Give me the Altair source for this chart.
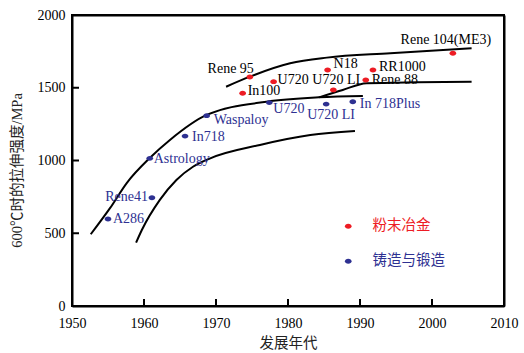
import altair as alt
import pandas as pd

# ---- data ----
# powder metallurgy alloys (粉末冶金)
pm_names = ["Rene 95", "U720", "In100", "N18", "U720 LI", "RR1000", "Rene 88", "Rene 104(ME3)"]
pm_year = [1974.7, 1978.0, 1973.7, 1985.5, 1986.3, 1991.8, 1990.8, 2002.9]
pm_strength = [1574, 1542, 1462, 1622, 1485, 1622, 1553, 1737]

# cast & wrought alloys (铸造与锻造)
cw_names = ["A286", "Rene41", "Astrology", "In718", "Waspaloy", "U720", "U720 LI", "In 718Plus"]
cw_year = [1955.0, 1961.1, 1960.8, 1965.7, 1968.7, 1977.4, 1985.3, 1989.0]
cw_strength = [598, 744, 1015, 1168, 1308, 1398, 1388, 1404]

group_names = ["粉末冶金", "铸造与锻造"]

# trend curves
curve_a_year = [1952.6, 1955.3, 1957.6, 1960.8, 1963.6, 1968.7, 1977.0, 1984.3, 1990.4]
curve_a_strength = [493, 674, 845, 1017, 1141, 1313, 1404, 1434, 1443]
curve_b_year = [1984.3, 1987.6, 1990.9, 1998.0, 2005.5]
curve_b_strength = [1434, 1485, 1531, 1538, 1542]
curve_c_year = [1971.4, 1974.7, 1980.3, 1985.4, 1994.2, 2005.5]
curve_c_strength = [1507, 1576, 1668, 1707, 1737, 1771]
curve_d_year = [1958.9, 1959.7, 1962.2, 1964.5, 1966.8, 1969.2, 1976.1, 1983.1, 1989.3]
curve_d_strength = [435, 522, 729, 866, 957, 1015, 1107, 1175, 1203]

x_ticks = [1950, 1960, 1970, 1980, 1990, 2000, 2010]
y_ticks = [0, 500, 1000, 1500, 2000]

# ---- styles ----
RED = "#ED1C24"
BLUE = "#2E3192"
SERIF = "Times New Roman, Liberation Serif, serif"
MIXED = "Times New Roman, Liberation Serif, Noto Sans CJK SC, serif"
ELLIPSE = "M -1 0 A 1 0.72 0 1 0 1 0 A 1 0.72 0 1 0 -1 0 Z"
X_MIN, X_MAX = x_ticks[0], x_ticks[-1]
Y_MIN, Y_MAX = y_ticks[0], y_ticks[-1]
TICK_MID_Y = 24.0    # centre of inward x-axis ticks (strength units, ~3.5px)
TICK_MID_X = 0.49    # centre of inward y-axis ticks (years, ~3.5px)

# label placement (dx, dy, align) per label
pm_label_style = {
    "Rene 95": (4, -8, "right"),
    "U720": (4, -2, "left"),
    "In100": (5, -2, "left"),
    "N18": (6, -6, "left"),
    "U720 LI": (-21, -10, "left"),
    "RR1000": (6, -3, "left"),
    "Rene 88": (6, 0, "left"),
    "Rene 104(ME3)": (-7, -13, "center"),
}
cw_label_style = {
    "A286": (5, 0, "left"),
    "Rene41": (-4, -1, "right"),
    "Astrology": (4, 1, "left"),
    "In718": (7, 1, "left"),
    "Waspaloy": (7, 4, "left"),
    "U720": (4, 6, "left"),
    "U720 LI": (-19, 11, "left"),
    "In 718Plus": (7, 2, "left"),
}

pts = pd.DataFrame({
    "name": pm_names + cw_names,
    "year": pm_year + cw_year,
    "strength": pm_strength + cw_strength,
    "group": [group_names[0]] * len(pm_names) + [group_names[1]] * len(cw_names),
})

curves = pd.concat([
    pd.DataFrame({"year": curve_a_year, "strength": curve_a_strength, "curve": "a"}),
    pd.DataFrame({"year": curve_b_year, "strength": curve_b_strength, "curve": "b"}),
    pd.DataFrame({"year": curve_c_year, "strength": curve_c_strength, "curve": "c"}),
    pd.DataFrame({"year": curve_d_year, "strength": curve_d_strength, "curve": "d"}),
], ignore_index=True)
curves["order"] = range(len(curves))

x_scale = alt.Scale(domain=[X_MIN, X_MAX], nice=False, zero=False)
y_scale = alt.Scale(domain=[Y_MIN, Y_MAX], nice=False)

x_enc = alt.X("year:Q", scale=x_scale, axis=alt.Axis(
    title="发展年代", values=x_ticks, format="d", ticks=False, grid=False,
    labelFont=SERIF, labelFontSize=14, labelColor="black", labelPadding=10,
    labelFlush=False,
    titleFont=MIXED, titleFontSize=14.5, titleFontWeight="normal", titleColor="#222",
    titlePadding=6, domainColor="black", domainWidth=2))
y_enc = alt.Y("strength:Q", scale=y_scale, axis=alt.Axis(
    title="600℃时的拉伸强度/MPa", values=y_ticks, format="d", ticks=False, grid=False,
    labelFont=SERIF, labelFontSize=14, labelColor="black", labelPadding=7,
    labelFlush=False,
    titleFont=MIXED, titleFontSize=14.5, titleFontWeight="normal", titleColor="#222",
    titleX=-55, titleY=155, titleAngle=-90, titleAlign="center", titleBaseline="middle",
    domainColor="black", domainWidth=2))

lines = alt.Chart(curves).mark_line(
    color="black", strokeWidth=2, interpolate="monotone"
).encode(x=x_enc, y=y_enc, detail="curve:N", order="order:Q")

# inward ticks as tick marks
xt = pd.DataFrame({"year": [float(v) for v in x_ticks[1:-1]],
                   "strength": [TICK_MID_Y] * (len(x_ticks) - 2)})
yt = pd.DataFrame({"year": [X_MIN + TICK_MID_X] * (len(y_ticks) - 2),
                   "strength": [float(v) for v in y_ticks[1:-1]]})
x_tick_marks = alt.Chart(xt).mark_tick(
    orient="vertical", size=7, thickness=2, color="black", opacity=1
).encode(x=x_enc, y=y_enc)
y_tick_marks = alt.Chart(yt).mark_tick(
    orient="horizontal", size=7, thickness=2, color="black", opacity=1
).encode(x=x_enc, y=y_enc)

points = alt.Chart(pts).mark_point(
    filled=True, opacity=1, size=45, shape=ELLIPSE
).encode(
    x=x_enc, y=y_enc,
    color=alt.Color("group:N", scale=alt.Scale(domain=group_names, range=[RED, BLUE]),
                    legend=alt.Legend(
                        title=None, orient="none", legendX=269, legendY=204,
                        symbolType=ELLIPSE, symbolSize=45, symbolStrokeWidth=0,
                        labelFont="Noto Sans CJK SC", labelFontSize=14.5,
                        labelColor={"expr": "datum.label == '粉末冶金' ? '#ED1C24' : '#2E3192'"},
                        labelOffset=17, rowPadding=20, padding=0)),
)

label_layers = []
for names, years, vals, style, col in [
    (pm_names, pm_year, pm_strength, pm_label_style, "black"),
    (cw_names, cw_year, cw_strength, cw_label_style, BLUE),
]:
    for n, yr, v in zip(names, years, vals):
        dx, dy, al = style[n]
        d = pd.DataFrame({"name": [n], "year": [yr], "strength": [v]})
        label_layers.append(
            alt.Chart(d).mark_text(
                font=SERIF, fontSize=14, color=col, align=al, baseline="middle",
                dx=dx, dy=dy
            ).encode(x=x_enc, y=y_enc, text="name:N")
        )

main = alt.layer(lines, x_tick_marks, y_tick_marks, points, *label_layers)

# box: stroked rect over the full domain, with top/right axis domains as well
box = pd.DataFrame({"year": [float(X_MIN)], "year2": [float(X_MAX)],
                    "strength": [float(Y_MIN)], "strength2": [float(Y_MAX)]})
frame = alt.Chart(box).mark_rect(
    filled=False, color="black", strokeWidth=2, opacity=1
).encode(
    x=alt.X("year:Q", scale=x_scale, axis=alt.Axis(
        orient="top", labels=False, ticks=False, grid=False, title="",
        domainColor="black", domainWidth=2)),
    x2="year2:Q",
    y=alt.Y("strength:Q", scale=y_scale, axis=alt.Axis(
        orient="right", labels=False, ticks=False, grid=False, title="",
        domainColor="black", domainWidth=2)),
    y2="strength2:Q",
)

chart = alt.layer(main, frame).resolve_axis(x="independent", y="independent").properties(
    width=432, height=291,
    autosize=alt.AutoSizeParams(type="none"),
    padding={"left": 72, "top": 15, "right": 20, "bottom": 47},
    background="white",
).configure_view(stroke="black", strokeWidth=2)

chart.save("out.html", embed_options={"renderer": "svg", "actions": False})
